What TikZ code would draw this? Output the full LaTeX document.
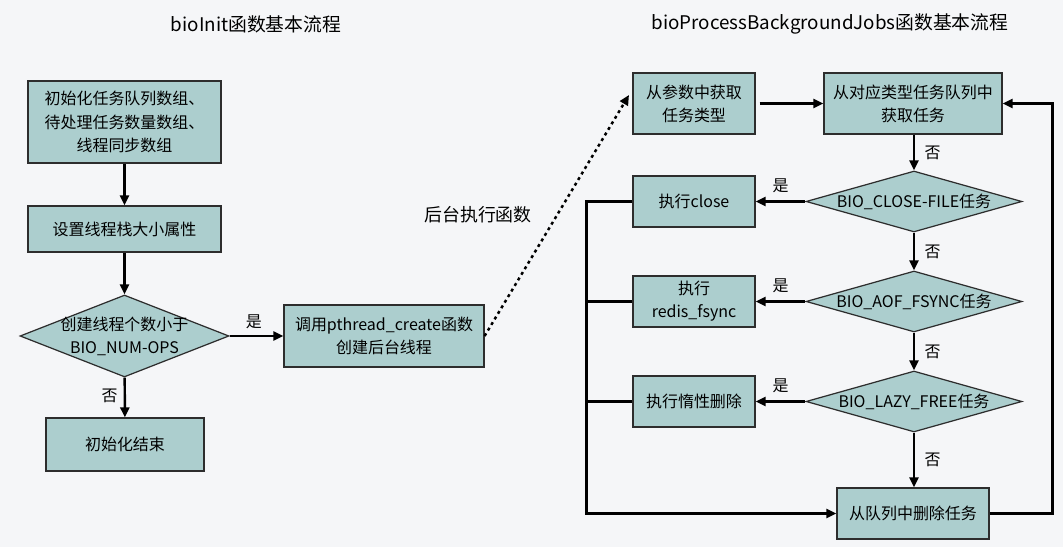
\documentclass[tikz,border=0pt]{standalone}
\usepackage{fontspec}
\setmainfont{Noto Sans CJK SC}
\usetikzlibrary{shapes.geometric,arrows.meta,calc}
\definecolor{bg}{RGB}{245,246,248}
\definecolor{boxfill}{RGB}{172,206,206}
\definecolor{boxline}{RGB}{45,45,45}
\tikzset{
  every node/.style={font=\fontsize{9.1}{13.2}\selectfont, text=black},
  box/.style={draw=boxline, line width=0.7pt, fill=boxfill, align=center, inner sep=0pt},
  dia/.style={shape=diamond, draw=boxline, line width=0.7pt, fill=boxfill, inner sep=0pt, aspect=3.5},
  arr/.style={line width=1.4pt, -{Triangle[length=0.2cm,width=0.18cm]}},
  ln/.style={line width=1.4pt},
  ttl/.style={font=\fontsize{10.7}{13}\selectfont},
  lbl/.style={font=\fontsize{9.1}{11}\selectfont}
}
\begin{document}
\begin{tikzpicture}[x=0.02cm,y=-0.02cm]
\fill[bg] (0,0) rectangle (1063,547);
\useasboundingbox (0,0) rectangle (1063,547);

% titles
\node[ttl] (t1) at (256,24) {bioInit函数基本流程};
\node[ttl] (t2) at (830,24) {bioProcessBackgroundJobs函数基本流程};

% left flow
\node[box, minimum width=3.86cm, minimum height=1.64cm] (b1) at (124.5,122) {初始化任务队列数组、\\待处理任务数量数组、\\线程同步数组};
\node[box, minimum width=3.86cm, minimum height=0.92cm] (b2) at (124.5,229) {设置线程栈大小属性};
\node[dia, minimum width=4.18cm, minimum height=1.64cm,
      label={[align=center]center:创建线程个数小于\\BIO\_NUM-OPS}] (d1) at (124.5,336) {};
\node[box, minimum width=3.16cm, minimum height=1.06cm] (b3) at (125,444.5) {初始化结束};
\node[box, minimum width=4.0cm, minimum height=1.24cm] (b4) at (384,336) {调用pthread\_create函数\\创建后台线程};

\draw[arr] (b1) -- (b2);
\draw[arr] (b2) -- (d1);
\draw[arr] (d1) -- node[lbl, left, pos=0.45] {否} (b3);
\draw[arr] (d1) -- node[lbl, above, pos=0.45] {是} (b4);

% dotted link
\coordinate (dotend) at (629,95);
\draw[line width=1.4pt, dash pattern=on 0.06cm off 0.07cm, -{Triangle[length=0.2cm,width=0.18cm]}] (b4.east) -- (dotend);
\node[font=\fontsize{10.2}{12}\selectfont] (lbg) at (478,215) {后台执行函数};

% right flow
\node[box, minimum width=2.44cm, minimum height=1.22cm] (A) at (694,103.5) {从参数中获取\\任务类型};
\node[box, minimum width=3.56cm, minimum height=1.22cm] (B) at (913,103.5) {从对应类型任务队列中\\获取任务};
\node[dia, minimum width=4.32cm, minimum height=1.22cm, label={center:BIO\_CLOSE-FILE任务}] (dc) at (914,201.5) {};
\node[dia, minimum width=4.32cm, minimum height=1.22cm, label={center:BIO\_AOF\_FSYNC任务}] (df) at (914,301.5) {};
\node[dia, minimum width=4.32cm, minimum height=1.22cm, label={center:BIO\_LAZY\_FREE任务}] (dl) at (914,401.5) {};
\node[box, minimum width=2.44cm, minimum height=1.02cm] (close) at (694,201.5) {执行close};
\node[box, minimum width=2.44cm, minimum height=1.02cm] (fsync) at (694,301.5) {执行\\redis\_fsync};
\node[box, minimum width=2.44cm, minimum height=1.02cm] (lazy) at (694,401.5) {执行惰性删除};
\node[box, minimum width=3.04cm, minimum height=1.02cm] (del) at (913,513.5) {从队列中删除任务};

\draw[arr, shorten <=0.08cm] (A) -- (B);
\draw[arr] (B.south -| dc.north) -- node[lbl, right, xshift=2pt] {否} (dc.north);
\draw[arr] (dc) -- node[lbl, right, xshift=2pt] {否} (df);
\draw[arr] (df) -- node[lbl, right, xshift=2pt] {否} (dl);
\draw[arr] (dl.south) -- node[lbl, right, xshift=2pt] {否} (dl.south |- del.north);
\draw[arr] (dc) -- node[lbl, above, pos=0.5, yshift=1pt] {是} (close);
\draw[arr] (df) -- node[lbl, above, pos=0.5, yshift=1pt] {是} (fsync);
\draw[arr] (dl) -- node[lbl, above, pos=0.5, yshift=1pt] {是} (lazy);

% loop back
\draw[arr] (close.west) -- ++(-46,0) |- (del.west);
\draw[ln] (fsync.west) -- ++(-46,0);
\draw[ln] (lazy.west) -- ++(-46,0);
\draw[arr] (del.east) -- ++(63,0) |- (B.east);
\end{tikzpicture}
\end{document}
